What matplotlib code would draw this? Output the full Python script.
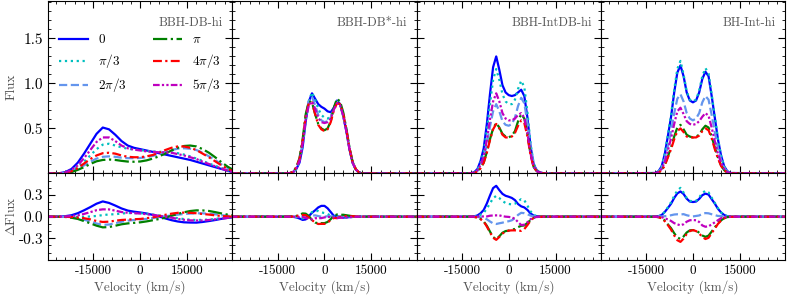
import numpy as np
import matplotlib
matplotlib.use("Agg")
import matplotlib.pyplot as plt
from matplotlib.ticker import MultipleLocator

plt.rcParams['font.family'] = 'serif'
plt.rcParams['font.serif'] = ['cmr10']
plt.rcParams['mathtext.fontset'] = 'cm'
plt.rcParams['axes.unicode_minus'] = False

# phases and line styles
phase_labels = [r'$0$', r'$\pi/3$', r'$2\pi/3$', r'$\pi$', r'$4\pi/3$', r'$5\pi/3$']
colors = ['b', 'c', 'cornflowerblue', 'g', 'r', 'm']
styles = ['-', ':', '--', '-.', (0, (4, 1.5, 1, 1.5)), (0, (3, 1, 1, 1, 1, 1))]

titles = ['BBH-DB-hi', 'BBH-DB*-hi', 'BBH-IntDB-hi', 'BH-Int-hi']

# velocity grids (km/s)
vel_wide = np.arange(-30000, 30001, 2000)
vel_narrow = np.arange(-12000, 12001, 1000)

# BBH-DB-hi fluxes (order: 0, pi/3, 2pi/3, pi, 4pi/3, 5pi/3)
db_0 = [0, 0, 0.002, 0.015, 0.05, 0.12, 0.22, 0.33, 0.44, 0.51, 0.49, 0.43, 0.36, 0.31, 0.285, 0.27,
        0.255, 0.24, 0.225, 0.21, 0.195, 0.18, 0.165, 0.15, 0.13, 0.11, 0.09, 0.07, 0.05, 0.03, 0.012]
db_1 = [0, 0, 0.001, 0.008, 0.03, 0.07, 0.13, 0.2, 0.27, 0.32, 0.33, 0.31, 0.29, 0.275, 0.265, 0.26,
        0.25, 0.245, 0.24, 0.24, 0.235, 0.225, 0.21, 0.19, 0.165, 0.14, 0.11, 0.085, 0.06, 0.035, 0.015]
db_2 = [0, 0, 0.001, 0.005, 0.02, 0.05, 0.09, 0.13, 0.165, 0.185, 0.19, 0.185, 0.175, 0.17, 0.17, 0.172,
        0.18, 0.195, 0.215, 0.24, 0.26, 0.275, 0.28, 0.275, 0.26, 0.23, 0.19, 0.15, 0.1, 0.06, 0.025]
db_3 = [0, 0, 0, 0.004, 0.015, 0.04, 0.07, 0.105, 0.135, 0.15, 0.155, 0.15, 0.14, 0.132, 0.13, 0.133,
        0.145, 0.165, 0.19, 0.22, 0.255, 0.285, 0.305, 0.31, 0.3, 0.27, 0.23, 0.18, 0.125, 0.075, 0.035]
db_4 = [0, 0, 0.001, 0.006, 0.025, 0.06, 0.11, 0.16, 0.2, 0.225, 0.23, 0.22, 0.2, 0.185, 0.18, 0.18,
        0.19, 0.205, 0.23, 0.26, 0.285, 0.30, 0.30, 0.285, 0.26, 0.22, 0.18, 0.135, 0.09, 0.05, 0.02]
db_5 = [0, 0, 0.001, 0.01, 0.04, 0.09, 0.17, 0.26, 0.35, 0.40, 0.40, 0.36, 0.31, 0.28, 0.265, 0.255,
        0.245, 0.24, 0.235, 0.235, 0.23, 0.215, 0.2, 0.18, 0.16, 0.13, 0.105, 0.08, 0.055, 0.03, 0.012]

# BBH-DB*-hi
dbs_0 = [0, 0.003, 0.015, 0.05, 0.12, 0.29, 0.58, 0.8, 0.89, 0.83, 0.77, 0.74, 0.72,
         0.69, 0.68, 0.73, 0.81, 0.77, 0.64, 0.47, 0.27, 0.12, 0.045, 0.012, 0]
dbs_1 = [0, 0.003, 0.016, 0.055, 0.13, 0.31, 0.6, 0.81, 0.9, 0.82, 0.72, 0.65, 0.62,
         0.61, 0.63, 0.72, 0.8, 0.77, 0.64, 0.47, 0.27, 0.12, 0.045, 0.012, 0]
dbs_2 = [0, 0.004, 0.018, 0.06, 0.15, 0.34, 0.63, 0.8, 0.85, 0.76, 0.65, 0.59, 0.57,
         0.58, 0.62, 0.72, 0.8, 0.78, 0.66, 0.48, 0.28, 0.12, 0.045, 0.012, 0]
dbs_3 = [0, 0.005, 0.02, 0.07, 0.17, 0.38, 0.66, 0.8, 0.79, 0.66, 0.55, 0.5, 0.48,
         0.5, 0.58, 0.73, 0.83, 0.8, 0.68, 0.5, 0.29, 0.13, 0.05, 0.014, 0]
dbs_4 = [0, 0.005, 0.02, 0.07, 0.16, 0.36, 0.64, 0.78, 0.79, 0.66, 0.54, 0.49, 0.47,
         0.49, 0.57, 0.7, 0.78, 0.77, 0.66, 0.49, 0.28, 0.13, 0.05, 0.014, 0]
dbs_5 = [0, 0.004, 0.017, 0.058, 0.14, 0.33, 0.6, 0.76, 0.8, 0.72, 0.62, 0.57, 0.56,
         0.57, 0.61, 0.71, 0.78, 0.76, 0.64, 0.47, 0.27, 0.12, 0.045, 0.012, 0]

# BBH-IntDB-hi
idb_0 = [0.003, 0.015, 0.05, 0.14, 0.28, 0.55, 0.88, 1.18, 1.3, 1.15, 0.98, 0.9, 0.87,
         0.86, 0.87, 0.9, 0.93, 0.86, 0.62, 0.3, 0.1, 0.035, 0.012, 0.003, 0]
idb_1 = [0.002, 0.012, 0.04, 0.12, 0.24, 0.48, 0.77, 1.04, 1.16, 1.04, 0.88, 0.8, 0.77,
         0.77, 0.82, 0.94, 1.03, 0.96, 0.68, 0.33, 0.11, 0.035, 0.012, 0.003, 0]
idb_2 = [0.002, 0.009, 0.03, 0.083, 0.17, 0.33, 0.52, 0.69, 0.77, 0.69, 0.58, 0.54, 0.53,
         0.55, 0.62, 0.75, 0.84, 0.78, 0.56, 0.27, 0.09, 0.03, 0.01, 0.002, 0]
idb_3 = [0.001, 0.006, 0.022, 0.06, 0.12, 0.24, 0.38, 0.5, 0.56, 0.51, 0.44, 0.41, 0.4,
         0.42, 0.47, 0.58, 0.66, 0.61, 0.44, 0.21, 0.07, 0.025, 0.008, 0.002, 0]
idb_4 = [0.001, 0.006, 0.021, 0.058, 0.12, 0.23, 0.37, 0.49, 0.55, 0.5, 0.43, 0.4, 0.4,
         0.41, 0.45, 0.53, 0.59, 0.56, 0.41, 0.2, 0.07, 0.025, 0.008, 0.002, 0]
idb_5 = [0.002, 0.01, 0.034, 0.095, 0.19, 0.37, 0.6, 0.8, 0.89, 0.8, 0.67, 0.61, 0.59,
         0.59, 0.61, 0.65, 0.67, 0.62, 0.45, 0.22, 0.075, 0.025, 0.008, 0.002, 0]

# BH-Int-hi
bh_0 = [0.005, 0.025, 0.08, 0.22, 0.42, 0.63, 0.9, 1.12, 1.2, 1.08, 0.9, 0.81, 0.79,
        0.81, 0.9, 1.05, 1.13, 1.08, 0.86, 0.62, 0.38, 0.2, 0.08, 0.025, 0.005]
bh_1 = [0.005, 0.025, 0.08, 0.22, 0.43, 0.65, 0.93, 1.16, 1.25, 1.1, 0.91, 0.82, 0.8,
        0.82, 0.92, 1.08, 1.17, 1.11, 0.88, 0.63, 0.39, 0.2, 0.08, 0.025, 0.005]
bh_2 = [0.004, 0.02, 0.06, 0.16, 0.31, 0.47, 0.67, 0.83, 0.88, 0.8, 0.67, 0.61, 0.59,
        0.61, 0.67, 0.79, 0.86, 0.82, 0.65, 0.46, 0.28, 0.15, 0.06, 0.02, 0.004]
bh_3 = [0.002, 0.012, 0.036, 0.1, 0.19, 0.29, 0.41, 0.51, 0.54, 0.49, 0.43, 0.41, 0.4,
        0.41, 0.43, 0.49, 0.53, 0.51, 0.41, 0.29, 0.18, 0.09, 0.036, 0.012, 0.002]
bh_4 = [0.002, 0.011, 0.034, 0.09, 0.18, 0.27, 0.38, 0.47, 0.5, 0.46, 0.41, 0.4, 0.4,
        0.4, 0.42, 0.47, 0.5, 0.48, 0.39, 0.27, 0.17, 0.085, 0.034, 0.011, 0.002]
bh_5 = [0.003, 0.016, 0.05, 0.13, 0.26, 0.39, 0.55, 0.69, 0.73, 0.66, 0.58, 0.55, 0.54,
        0.55, 0.58, 0.63, 0.67, 0.64, 0.51, 0.36, 0.22, 0.12, 0.05, 0.016, 0.003]

panels = [
    (vel_wide, [db_0, db_1, db_2, db_3, db_4, db_5]),
    (vel_narrow, [dbs_0, dbs_1, dbs_2, dbs_3, dbs_4, dbs_5]),
    (vel_narrow, [idb_0, idb_1, idb_2, idb_3, idb_4, idb_5]),
    (vel_narrow, [bh_0, bh_1, bh_2, bh_3, bh_4, bh_5]),
]

fig = plt.figure(figsize=(7.89, 2.96), dpi=100)
gs = fig.add_gridspec(2, 4, left=0.061, right=0.995, top=0.998, bottom=0.122,
                      hspace=0, wspace=0, height_ratios=[2, 1])

label_color = '#555555'

for i, (vel, fluxes) in enumerate(panels):
    ax = fig.add_subplot(gs[0, i])
    axd = fig.add_subplot(gs[1, i])
    v = np.asarray(vel, dtype=float)
    f = np.array(fluxes, dtype=float)
    if v[0] > -30000:
        v = np.concatenate([[-30000], v, [30000]])
        f = np.hstack([np.zeros((6, 1)), f, np.zeros((6, 1))])
    mean = f.mean(axis=0)
    for k in range(6):
        ax.plot(v, f[k], color=colors[k], ls=styles[k], lw=1.6, label=phase_labels[k])
        axd.plot(v, f[k] - mean, color=colors[k], ls=styles[k], lw=1.6)

    for a in (ax, axd):
        a.set_xlim(-29500, 29500)
        a.xaxis.set_major_locator(MultipleLocator(15000))
        a.xaxis.set_minor_locator(MultipleLocator(3000))
        a.tick_params(which='both', direction='in', top=True, right=True)
        a.tick_params(which='major', length=5, width=0.8)
        a.tick_params(which='minor', length=2.5, width=0.6)
        a.tick_params(axis='y', labelsize=11)
        a.tick_params(axis='x', labelsize=9.5)

    ax.set_ylim(0, 1.92)
    ax.set_yticks([0.5, 1.0, 1.5])
    ax.yaxis.set_minor_locator(MultipleLocator(0.1))
    ax.tick_params(labelbottom=False)

    axd.set_ylim(-0.6, 0.6)
    axd.set_yticks([-0.3, 0.0, 0.3])
    axd.yaxis.set_minor_locator(MultipleLocator(0.1))
    axd.set_xlabel('Velocity (km/s)', fontsize=9.5, color=label_color, labelpad=2)

    ax.text(0.95, 0.87, titles[i], transform=ax.transAxes, ha='right', va='center',
            fontsize=9, color=label_color)

    if i == 0:
        ax.set_ylabel('Flux', fontsize=9.5, color=label_color)
        axd.set_ylabel(r'$\Delta$Flux', fontsize=9.5, color=label_color)
        ax.yaxis.set_label_coords(-0.165, 0.5)
        axd.yaxis.set_label_coords(-0.165, 0.5)
        ax.legend(loc='upper left', bbox_to_anchor=(0.06, 0.81), ncol=2, frameon=False,
                  fontsize=9.5, handlelength=2.2, handletextpad=0.75, columnspacing=2.0,
                  labelspacing=0.45, borderpad=0, borderaxespad=0)
    else:
        ax.tick_params(labelleft=False)
        axd.tick_params(labelleft=False)

fig.savefig('out.png', dpi=100)
